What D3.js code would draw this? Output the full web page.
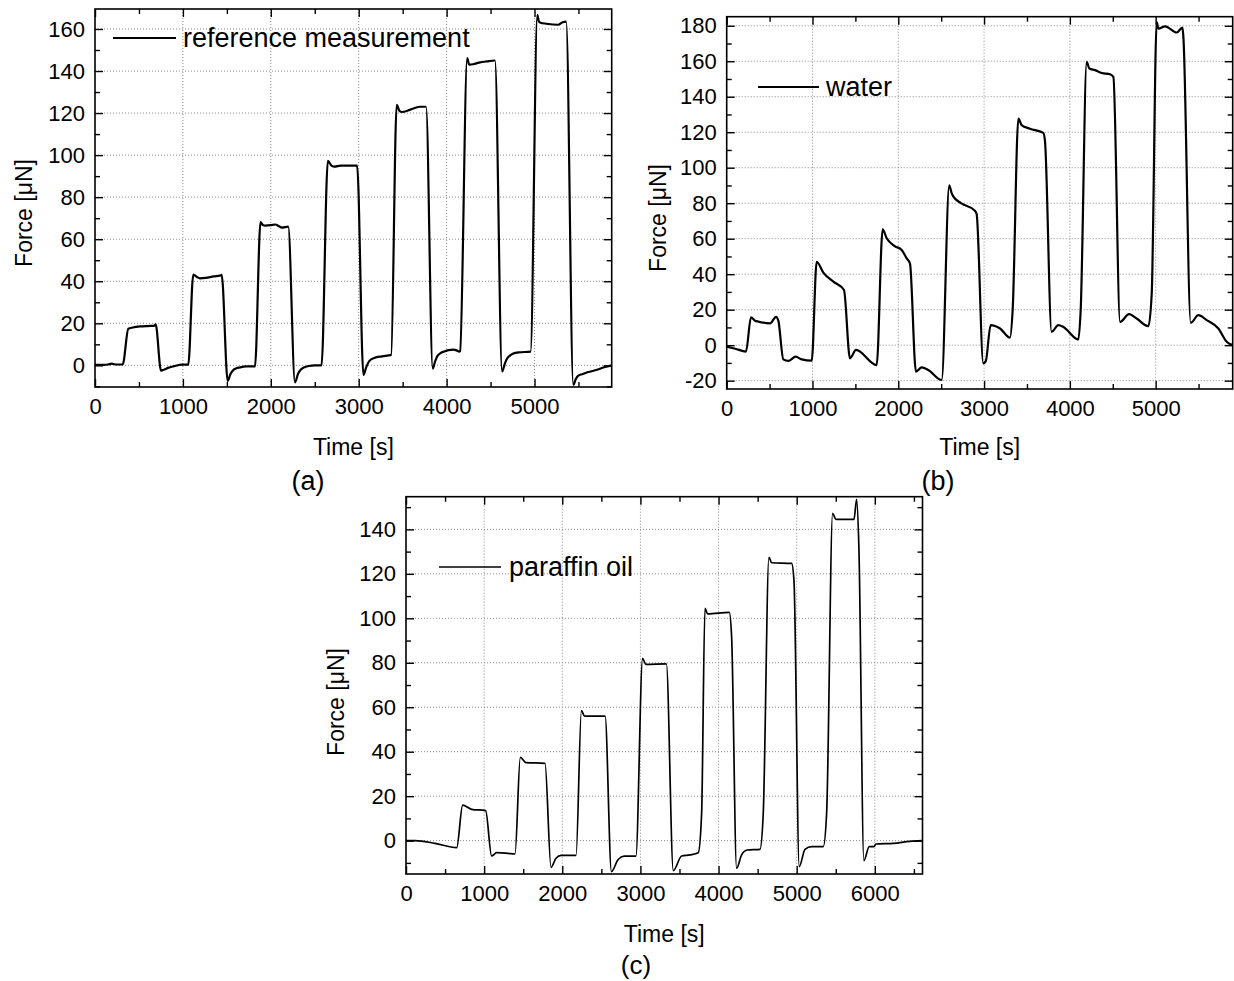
<!DOCTYPE html>
<html><head><meta charset="utf-8">
<script src="https://cdn.jsdelivr.net/npm/d3@7"></script>
<style>
body{margin:0;background:#fff}
svg{display:block}
text{font-family:"Liberation Sans",Arial,Helvetica,sans-serif;fill:#000}
</style>
</head><body>
<svg id="chart" width="1234" height="981"></svg>
<script>
// ---------- Data ----------
const aTime  = [0,100,150,190,230,315,379,430,512,600,671,690,751,790,830,900,990,1061,1118,1160,1194,1260,1350,1422,1441,1510,1540,1571,1610,1646,1720,1820,1883,1910,1937,2000,2050,2100,2126,2198,2275,2310,2342,2390,2432,2500,2577,2649,2690,2725,2793,2900,2982,3054,3085,3120,3176,3266,3369,3432,3465,3491,3581,3694,3766,3842,3870,3896,3930,3964,4077,4120,4144,4153,4234,4257,4300,4369,4460,4550,4631,4660,4685,4720,4752,4820,4955,5032,5050,5068,5135,5270,5320,5360,5441,5470,5495,5540,5586,5650,5721,5800,5878];
const aForce = [0.2,0.2,0.4,0.8,0.4,0.4,17.4,18.0,18.5,18.7,18.8,19.5,-2.5,-2.0,-1.2,-0.4,0.3,0.3,43.2,42.0,41.4,41.6,42.3,42.7,43.0,-7.4,-4.2,-2.3,-1.4,-1.0,-0.5,-0.5,68.1,66.8,66.5,66.7,67.0,66.0,65.5,66.0,-8.1,-4.0,-2.0,-0.8,-0.3,0.0,0.0,97.3,95.0,94.5,95.0,95.0,95.0,-4.6,-1.0,2.0,3.5,4.3,5.0,123.9,121.0,120.5,121.5,123.0,123.0,-1.6,2.0,4.5,5.8,6.5,7.5,7.0,6.5,6.7,146.1,143.0,143.2,144.0,144.6,145.0,-2.9,0.5,3.0,4.6,5.5,6.2,6.5,166.7,163.5,163.0,162.5,162.0,163.2,163.5,-9.2,-6.5,-5.0,-4.2,-3.5,-2.8,-2.0,-0.8,0.0];

const bTime  = [0,100,225,283,330,369,505,575,602,660,718,804,874,991,1049,1126,1243,1367,1437,1507,1748,1818,1865,1954,2040,2098,2136,2206,2273,2350,2506,2594,2620,2639,2731,2890,2913,2991,3020,3077,3186,3302,3333,3400,3438,3535,3690,3710,3787,3865,3924,4099,4126,4196,4227,4293,4371,4468,4507,4585,4690,4779,4915,4954,5012,5032,5110,5246,5312,5323,5409,5498,5595,5731,5828,5898];
const bForce = [-0.8,-2.0,-3.6,15.7,13.8,13.3,12.3,16.0,13.8,-8.0,-8.9,-6.5,-8.0,-8.7,47.0,40.9,35.8,31.1,-7.4,-2.7,-11.2,65.3,60.2,56.0,53.6,48.9,46.1,-14.9,-12.5,-14.0,-19.6,90.0,86.0,84.0,80.0,75.9,74.0,-10.3,-9.0,11.3,9.4,4.3,19.7,127.7,124.0,122.0,119.6,115.0,7.5,11.3,10.3,3.2,19.7,159.6,155.9,155.0,153.4,152.7,151.2,13.1,17.5,15.0,10.7,29.0,182.0,178.4,179.7,176.2,179.0,173.7,12.6,16.9,14.1,9.4,1.9,0.0];

const cTime  = [0,115,371,649,725,840,1019,1096,1160,1301,1395,1463,1536,1779,1856,1920,1984,2176,2245,2285,2548,2629,2715,2791,2942,3028,3069,3332,3421,3527,3634,3740,3783,3826,3860,4137,4167,4231,4295,4367,4530,4572,4645,4679,4935,4965,5033,5106,5191,5340,5383,5460,5502,5733,5767,5796,5860,5928,5988,6014,6236,6449,6600];
const cForce = [0,0,-1.2,-3.1,16.0,14.1,13.5,-6.9,-5.4,-5.7,-6.0,37.5,35.1,34.8,-12.0,-7.9,-6.6,-6.6,58.5,56.0,56.0,-13.9,-8.5,-7.0,-7.0,82.0,79.3,79.5,-13.5,-6.9,-6.4,-5.4,12.0,104.5,102.0,102.7,91.8,-12.4,-6.4,-4.2,-3.9,12.3,127.4,125.0,124.7,117.0,-11.7,-3.9,-2.7,-2.7,12.3,147.2,144.5,144.5,153.5,132.0,-9.0,-2.7,-2.7,-1.5,-1.2,-0.3,0];

const aXTicks = [0,1000,2000,3000,4000,5000];
const aYTicks = [0,20,40,60,80,100,120,140,160];
const bXTicks = [0,1000,2000,3000,4000,5000];
const bYTicks = [-20,0,20,40,60,80,100,120,140,160,180];
const cXTicks = [0,1000,2000,3000,4000,5000,6000];
const cYTicks = [0,20,40,60,80,100,120,140];

const aLegend = "reference measurement";
const bLegend = "water";
const cLegend = "paraffin oil";
const xTitle = "Time [s]";
const yTitle = "Force [\u03bcN]";

// ---------- Drawing ----------
const svg = d3.select("#chart");
svg.append("rect").attr("width",1234).attr("height",981).attr("fill","#fff");
const plainFmt = d => String(d);

function drawPanel(o, idx){
  const x = d3.scaleLinear().domain(o.xDomain).range([o.left, o.right]);
  const y = d3.scaleLinear().domain(o.yDomain).range([o.bottom, o.top]);
  const g = svg.append("g");
  const w = o.right - o.left, h = o.bottom - o.top;

  // grid (dotted)
  g.selectAll(null).data(o.xTicks.filter(v => x(v) > o.left + 1 && x(v) < o.right - 1)).join("line")
    .attr("x1", d => x(d)).attr("x2", d => x(d)).attr("y1", o.top).attr("y2", o.bottom)
    .attr("stroke", "#8a8a8a").attr("stroke-width", 1).attr("stroke-dasharray", "1,2");
  g.selectAll(null).data(o.yTicks.filter(v => y(v) > o.top + 1 && y(v) < o.bottom - 1)).join("line")
    .attr("x1", o.left).attr("x2", o.right).attr("y1", d => y(d)).attr("y2", d => y(d))
    .attr("stroke", "#8a8a8a").attr("stroke-width", 1).attr("stroke-dasharray", "1,2");

  const minorX = d3.range(o.xDomain[0], o.xDomain[1] + 1e-9, o.xMinor).filter(v => !o.xTicks.includes(v));
  const minorY = d3.range(Math.ceil(o.yDomain[0] / o.yMinor) * o.yMinor, o.yDomain[1] + 1e-9, o.yMinor).filter(v => !o.yTicks.includes(v));

  function axisGroup(axis, tx, ty){
    const ag = g.append("g").attr("transform", `translate(${tx},${ty})`).call(axis);
    ag.select(".domain").remove();
    ag.selectAll("line").attr("stroke", "#000").attr("stroke-width", 1.4);
    ag.selectAll("text").attr("font-size", 22).attr("font-family", '"Liberation Sans",Arial,sans-serif').attr("fill", "#000");
    return ag;
  }
  // major ticks with labels
  axisGroup(d3.axisBottom(x).tickValues(o.xTicks).tickSizeInner(-8).tickSizeOuter(0).tickPadding(11).tickFormat(plainFmt), 0, o.bottom);
  axisGroup(d3.axisLeft(y).tickValues(o.yTicks).tickSizeInner(-8).tickSizeOuter(0).tickPadding(10).tickFormat(plainFmt), o.left, 0);
  axisGroup(d3.axisTop(x).tickValues(o.xTicks).tickSizeInner(-8).tickSizeOuter(0).tickFormat(""), 0, o.top);
  axisGroup(d3.axisRight(y).tickValues(o.yTicks).tickSizeInner(-8).tickSizeOuter(0).tickFormat(""), o.right, 0);
  // minor ticks
  axisGroup(d3.axisBottom(x).tickValues(minorX).tickSizeInner(-5).tickSizeOuter(0).tickFormat(""), 0, o.bottom);
  axisGroup(d3.axisTop(x).tickValues(minorX).tickSizeInner(-5).tickSizeOuter(0).tickFormat(""), 0, o.top);
  axisGroup(d3.axisLeft(y).tickValues(minorY).tickSizeInner(-5).tickSizeOuter(0).tickFormat(""), o.left, 0);
  axisGroup(d3.axisRight(y).tickValues(minorY).tickSizeInner(-5).tickSizeOuter(0).tickFormat(""), o.right, 0);

  // clip & data line
  const cid = "clip" + idx;
  svg.append("clipPath").attr("id", cid).append("rect")
    .attr("x", o.left).attr("y", o.top).attr("width", w).attr("height", h);
  const line = d3.line().x(d => x(d[0])).y(d => y(d[1])).curve(d3.curveMonotoneX);
  g.append("path").datum(d3.zip(o.time, o.force))
    .attr("clip-path", `url(#${cid})`)
    .attr("d", line).attr("fill", "none").attr("stroke", "#000")
    .attr("stroke-width", o.lw).attr("stroke-linejoin", "round");

  // frame
  g.append("rect").attr("x", o.left).attr("y", o.top).attr("width", w).attr("height", h)
    .attr("fill", "none").attr("stroke", "#000").attr("stroke-width", 1.6);

  // legend
  g.append("line").attr("x1", o.leg.x1).attr("x2", o.leg.x2).attr("y1", o.leg.y).attr("y2", o.leg.y)
    .attr("stroke", "#000").attr("stroke-width", o.lw);
  g.append("text").attr("x", o.leg.tx).attr("y", o.leg.y).attr("dy", "0.35em")
    .attr("font-size", 27).text(o.legend);

  // axis titles
  g.append("text").attr("x", (o.left + o.right) / 2).attr("y", o.xt).attr("dy", "0.35em")
    .attr("text-anchor", "middle").attr("font-size", 23).text(xTitle);
  g.append("text").attr("transform", `translate(${o.ytx},${o.yty}) rotate(-90)`).attr("dy", "0.35em")
    .attr("text-anchor", "middle").attr("font-size", 23).text(yTitle);

  // panel label
  g.append("text").attr("x", o.lab.x).attr("y", o.lab.y).attr("dy", "0.35em")
    .attr("text-anchor", "middle").attr("font-size", o.lab.fs).text(o.lab.t);
}

drawPanel({left:95, right:611.7, top:9, bottom:387, xDomain:[0,5878], yDomain:[-10.3,169.5],
  xTicks:aXTicks, yTicks:aYTicks, xMinor:500, yMinor:10, time:aTime, force:aForce, lw:2.2,
  legend:aLegend, leg:{x1:113,x2:176,y:38,tx:183}, xt:447, ytx:24, yty:213, lab:{x:308,y:481,t:"(a)",fs:27}}, 0);

drawPanel({left:726.7, right:1232.7, top:16.7, bottom:389, xDomain:[0,5898], yDomain:[-24.7,185.1],
  xTicks:bXTicks, yTicks:bYTicks, xMinor:500, yMinor:10, time:bTime, force:bForce, lw:2.2,
  legend:bLegend, leg:{x1:758,x2:819,y:87,tx:826}, xt:447, ytx:658, yty:218, lab:{x:938,y:481,t:"(b)",fs:27}}, 1);

drawPanel({left:406, right:922.5, top:496.7, bottom:874, xDomain:[0,6610], yDomain:[-15,154.7],
  xTicks:cXTicks, yTicks:cYTicks, xMinor:500, yMinor:10, time:cTime, force:cForce, lw:1.7,
  legend:cLegend, leg:{x1:439,x2:501,y:567,tx:509}, xt:934, ytx:336, yty:702, lab:{x:636,y:965,t:"(c)",fs:26}}, 2);
</script>
</body></html>
